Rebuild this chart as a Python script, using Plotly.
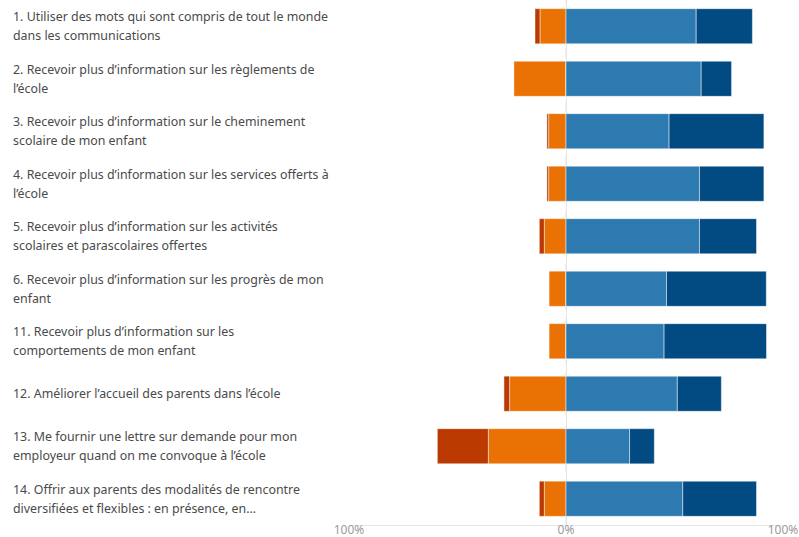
import plotly.graph_objects as go

labels = [
    "1. Utiliser des mots qui sont compris de tout le monde<br>dans les communications",
    "2. Recevoir plus d’information sur les règlements de<br>l’école",
    "3. Recevoir plus d’information sur le cheminement<br>scolaire de mon enfant",
    "4. Recevoir plus d’information sur les services offerts à<br>l’école",
    "5. Recevoir plus d’information sur les activités<br>scolaires et parascolaires offertes",
    "6. Recevoir plus d’information sur les progrès de mon<br>enfant",
    "11. Recevoir plus d’information sur les<br>comportements de mon enfant",
    "12. Améliorer l’accueil des parents dans l’école",
    "13. Me fournir une lettre sur demande pour mon<br>employeur quand on me convoque à l’école",
    "14. Offrir aux parents des modalités de rencontre<br>diversifiées et flexibles : en présence, en...",
]
categories = [f"q{i}" for i in range(len(labels))]

strongly_disagree = [2.3, 0.0, 0.8, 0.8, 2.3, 0.0, 0.0, 2.6, 23.5, 2.3]
disagree = [12.0, 24.0, 8.0, 8.0, 10.0, 7.8, 7.8, 26.0, 35.8, 10.0]
agree = [60.0, 62.3, 47.5, 61.5, 61.5, 46.3, 45.2, 51.3, 29.3, 53.8]
strongly_agree = [25.9, 14.0, 43.7, 29.7, 26.3, 46.0, 47.2, 20.3, 11.4, 34.0]

tick_vals = [-100, 0, 100]
tick_text = ["100%", "0%", "100%"]

c_sd = "#BA3A02"
c_d = "#EA7104"
c_a = "#2D7AB1"
c_sa = "#024A82"

line = dict(color="rgba(255,255,255,0.6)", width=0.8)

fig = go.Figure()
fig.add_trace(go.Bar(y=categories, x=[-v for v in disagree], orientation="h",
                     marker=dict(color=c_d, line=line), name="En désaccord"))
fig.add_trace(go.Bar(y=categories, x=[-v for v in strongly_disagree], orientation="h",
                     marker=dict(color=c_sd, line=line), name="Fortement en désaccord"))
fig.add_trace(go.Bar(y=categories, x=agree, orientation="h",
                     marker=dict(color=c_a, line=line), name="D'accord"))
fig.add_trace(go.Bar(y=categories, x=strongly_agree, orientation="h",
                     marker=dict(color=c_sa, line=line), name="Fortement d'accord"))

plot_left = 349
plot_right = 783
pw = plot_right - plot_left
label_x = (11 - plot_left) / pw
line_gap = 19

for cat, lab in zip(categories, labels):
    parts = lab.split("<br>")
    n = len(parts)
    for i, part in enumerate(parts):
        shift = ((n - 1) / 2 - i) * line_gap
        fig.add_annotation(x=label_x, xref="paper", y=cat, yref="y", text=part,
                           showarrow=False, xanchor="left", align="left", yshift=shift,
                           font=dict(family="Noto Sans", size=12.4, color="#4a4a4a"))

fig.add_shape(type="line", xref="x", yref="paper", x0=0, x1=0, y0=0, y1=1,
              line=dict(color="#dedede", width=1, dash="dash"), layer="below")

fig.update_layout(
    width=799, height=537,
    margin=dict(l=plot_left, r=799 - plot_right, t=0, b=12),
    barmode="relative",
    bargap=0.33,
    showlegend=False,
    plot_bgcolor="white",
    paper_bgcolor="white",
    font=dict(family="Noto Sans", size=12, color="#9a9a9a"),
    xaxis=dict(range=[-100, 100], tickvals=tick_vals, ticktext=tick_text,
               showgrid=True, gridcolor="#e6e6e6", gridwidth=1, zeroline=False,
               showline=True, linecolor="#e6e6e6", linewidth=1, automargin=False,
               ticklabelstandoff=-6,
               tickfont=dict(size=12, color="#9a9a9a"), fixedrange=True),
    yaxis=dict(categoryorder="array", categoryarray=categories, autorange="reversed",
               showticklabels=False, showgrid=False, zeroline=False, fixedrange=True,
               automargin=False),
)

fig.write_html("out.html", config={"displayModeBar": False},
               post_script="document.body.style.margin='0';")
